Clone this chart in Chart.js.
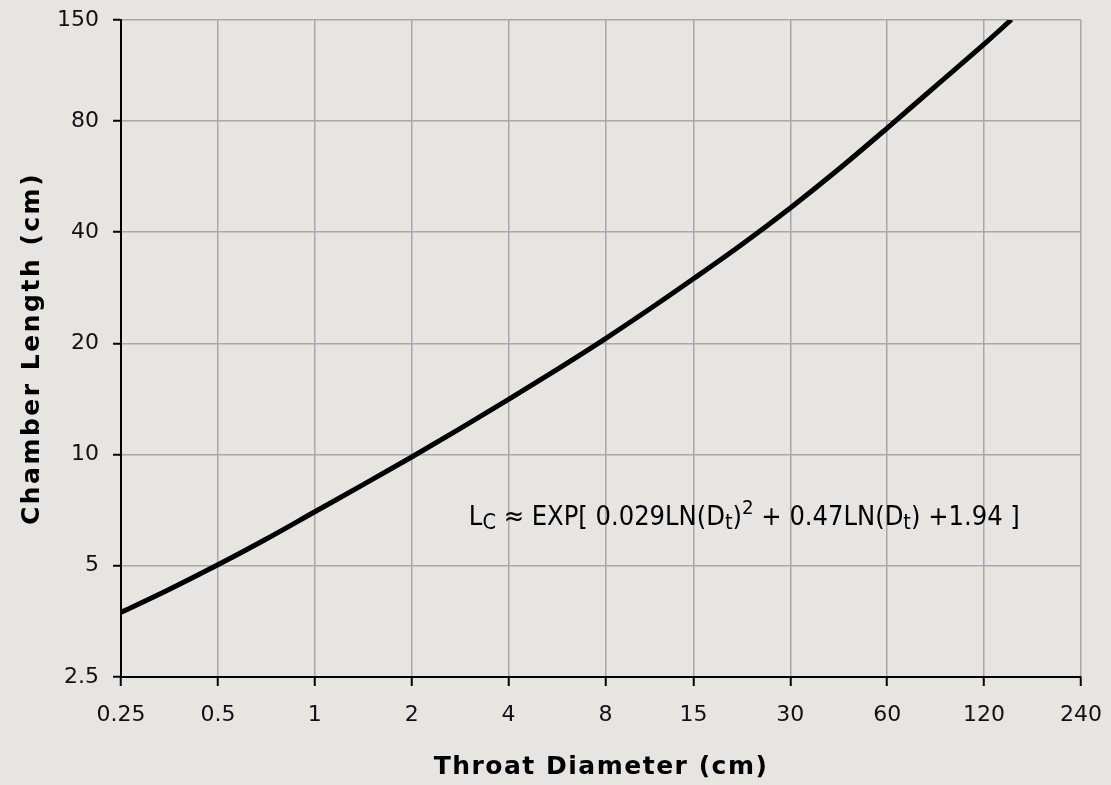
<!DOCTYPE html>
<html>
<head>
<meta charset="utf-8">
<script src="https://cdn.jsdelivr.net/npm/chart.js@4.4.1/dist/chart.umd.min.js"></script>
<style>
  html, body { margin: 0; padding: 0; background: #e6e5e1; }
  #wrap { width: 1111px; height: 785px; }
</style>
</head>
<body>
<div id="wrap"><canvas id="chart"></canvas></div>
<script>
// values
const throatDiameter = [0.25, 0.35, 0.5, 0.7, 1, 1.4, 2, 2.8, 4, 5.6,
  8, 11, 15, 21, 30, 42, 60, 85, 120, 146];
const chamberLength = [3.74, 4.3, 5.03, 5.88, 7.0, 8.25, 9.85, 11.7, 14.1, 16.9,
  20.6, 24.8, 29.9, 36.8, 46.5, 58.8, 76.5, 99.5, 129, 150.5];

const xTicks = [0.25, 0.5, 1, 2, 4, 8, 15, 30, 60, 120, 240];
const yTicks = [2.5, 5, 10, 20, 40, 80, 150];

const xTitle = 'Throat Diameter (cm)';
const yTitle = 'Chamber Length (cm)';

// formula label, split into normal / sub / sup pieces
const formulaParts = [
  ['L', 'n'], ['C', 'sub'], [' \u2248 EXP[ 0.029LN(D', 'n'], ['t', 'sub'], [')', 'n'], ['2', 'sup'],
  [' + 0.47LN(D', 'n'], ['t', 'sub'], [') +1.94 ]', 'n']
];

const bgPlugin = {
  id: 'bg',
  beforeDraw(chart) {
    const c = chart.ctx;
    c.save();
    c.fillStyle = '#e6e5e1';
    c.fillRect(0, 0, chart.width, chart.height);
    c.restore();
  }
};

const textPlugin = {
  id: 'texts',
  afterDraw(chart) {
    const c = chart.ctx;
    const a = chart.chartArea;
    c.save();
    c.fillStyle = '#000';
    c.font = 'bold 25px "DejaVu Sans"';
    c.letterSpacing = '1.5px';
    c.textAlign = 'center';
    c.textBaseline = 'alphabetic';
    c.fillText(xTitle, (a.left + a.right) / 2, 774);
    c.save();
    c.letterSpacing = '2.5px';
    c.translate(39, (a.top + a.bottom) / 2);
    c.rotate(-Math.PI / 2);
    c.fillText(yTitle, 0, 0);
    c.restore();

    // formula
    c.letterSpacing = '0px';
    c.textAlign = 'left';
    let x = chart.scales.x.getPixelForValue(3.01);
    const y = chart.scales.y.getPixelForValue(6.43);
    const size = 27;
    formulaParts.forEach(([t, mode]) => {
      let fs = size, dy = 0;
      if (mode === 'sub') { fs = size * 0.8; dy = 4; }
      if (mode === 'sup') { fs = size * 0.75; dy = -11; }
      c.font = fs + 'px "DejaVu Sans Condensed", "Liberation Sans"';
      c.fillText(t, x, y + dy);
      x += c.measureText(t).width;
    });
    c.restore();
  }
};

const ctx = document.getElementById('chart').getContext('2d');
new Chart(ctx, {
  type: 'line',
  data: {
    datasets: [{
      data: throatDiameter.map((d, i) => ({ x: d, y: chamberLength[i] })),
      borderColor: '#000',
      borderWidth: 5,
      pointRadius: 0,
      cubicInterpolationMode: 'monotone',
      fill: false,
      clip: 0
    }]
  },
  options: {
    responsive: true,
    maintainAspectRatio: false,
    animation: false,
    layout: { padding: { top: 20, right: 30, bottom: 0, left: 0 } },
    plugins: {
      legend: { display: false },
      tooltip: { enabled: false }
    },
    scales: {
      x: {
        type: 'logarithmic',
        min: 0.25,
        max: 240,
        afterBuildTicks: (scale) => { scale.ticks = xTicks.map(v => ({ value: v })); },
        afterFit: (scale) => {
          scale.height = 108;
          scale.paddingLeft = 0;
          scale.paddingRight = 0;
        },
        ticks: {
          color: '#111',
          padding: 16,
          maxRotation: 0,
          autoSkip: false,
          font: { family: 'DejaVu Sans', size: 22 },
          callback: (v) => String(v)
        },
        grid: { color: '#a8a8a8', lineWidth: 1.5, tickColor: '#000', tickWidth: 2, tickLength: 9 },
        border: { color: '#000', width: 2 }
      },
      y: {
        type: 'logarithmic',
        min: 2.5,
        max: 150,
        afterBuildTicks: (scale) => { scale.ticks = yTicks.map(v => ({ value: v })); },
        afterFit: (scale) => {
          scale.width = 121;
          scale.paddingTop = 0;
          scale.paddingBottom = 0;
        },
        ticks: {
          color: '#111',
          padding: 14,
          autoSkip: false,
          font: { family: 'DejaVu Sans', size: 22 },
          callback: (v) => String(v)
        },
        grid: { color: '#a8a8a8', lineWidth: 1.5, tickColor: '#000', tickWidth: 2, tickLength: 8 },
        border: { color: '#000', width: 2 }
      }
    }
  },
  plugins: [bgPlugin, textPlugin]
});
</script>
</body>
</html>
